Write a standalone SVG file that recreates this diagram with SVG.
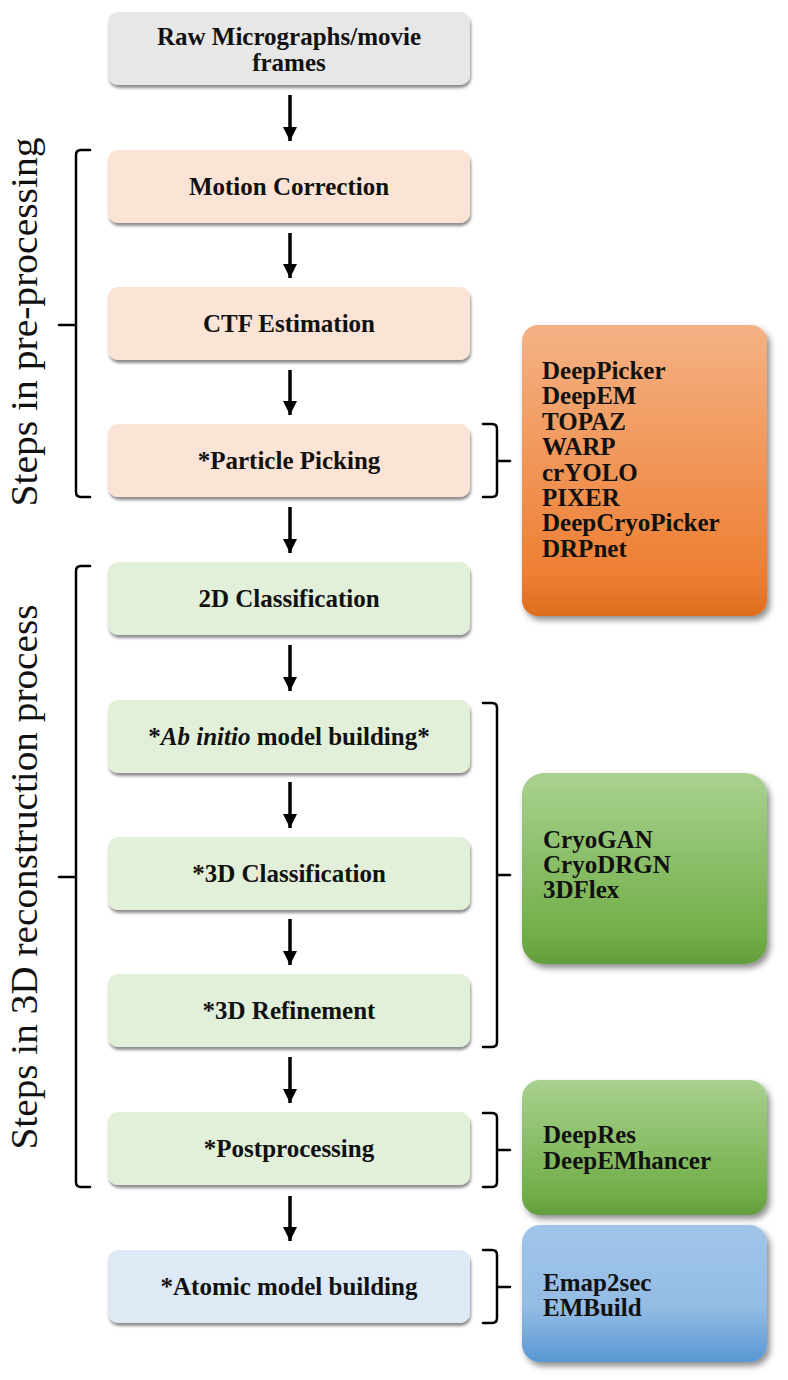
<svg xmlns="http://www.w3.org/2000/svg" width="788" height="1380" viewBox="0 0 788 1380">
<defs>
<filter id="sh" x="-5%" y="-15%" width="112%" height="140%"><feDropShadow dx="1" dy="3" stdDeviation="1.6" flood-color="#000" flood-opacity="0.45"/></filter>
<filter id="sh2" x="-8%" y="-8%" width="120%" height="120%"><feDropShadow dx="3" dy="4" stdDeviation="3" flood-color="#000" flood-opacity="0.45"/></filter>
<linearGradient id="gOr" x1="0" y1="0" x2="0" y2="1"><stop offset="0" stop-color="#f4b285"/><stop offset="0.85" stop-color="#ee7f34"/><stop offset="1" stop-color="#de6d1e"/></linearGradient>
<linearGradient id="gGr" x1="0" y1="0" x2="0" y2="1"><stop offset="0" stop-color="#a9d18f"/><stop offset="0.85" stop-color="#71ae48"/><stop offset="1" stop-color="#629d3c"/></linearGradient>
<linearGradient id="gBl" x1="0" y1="0" x2="0" y2="1"><stop offset="0" stop-color="#a0c5e9"/><stop offset="0.6" stop-color="#94bce4"/><stop offset="1" stop-color="#5897d3"/></linearGradient>
<marker id="ah" markerUnits="userSpaceOnUse" markerWidth="16" markerHeight="16" refX="14" refY="7" orient="auto"><path d="M0,0 L14,7 L0,14 z" fill="#000"/></marker>
</defs>
<style>
.box{stroke:none;filter:url(#sh)}
.gray{fill:#e8e7e7}
.pre{fill:#fbe4d5}
.grn{fill:#e2efd9}
.blu{fill:#ddeaf6}
.lbl{font-family:"Liberation Serif","Times New Roman",serif;font-weight:bold;font-size:25px;fill:#111;text-anchor:middle}
.tool{font-family:"Liberation Serif","Times New Roman",serif;font-weight:bold;font-size:25px;fill:#111}
.side{font-family:"Liberation Serif","Times New Roman",serif;font-size:37px;fill:#111;text-anchor:middle}
.tbox{filter:url(#sh2)}
.br{fill:none;stroke:#000;stroke-width:2.5;stroke-linecap:round}
.arr{stroke:#000;stroke-width:3.5}
</style>
<rect width="788" height="1380" fill="#fff"/>

<g id="side-labels">
<text class="side" transform="translate(37,322) rotate(-90)" textLength="369" lengthAdjust="spacingAndGlyphs">Steps in pre-processing</text>
<text class="side" transform="translate(37,877) rotate(-90)" textLength="545" lengthAdjust="spacingAndGlyphs">Steps in 3D reconstruction process</text>
</g>

<g id="brackets">
<path class="br" d="M90,150 H81 Q76,150 76,155 V492 Q76,497 81,497 H90 M76,325 H59"/>
<path class="br" d="M90,566 H81 Q76,566 76,571 V1182 Q76,1187 81,1187 H90 M76,877 H59"/>
<path class="br" d="M483,424 H492 Q497,424 497,429 V492 Q497,497 492,497 H483 M497,461 H510"/>
<path class="br" d="M483,703 H492 Q497,703 497,708 V1042 Q497,1047 492,1047 H483 M497,875 H510"/>
<path class="br" d="M483,1113 H492 Q497,1113 497,1118 V1182 Q497,1187 492,1187 H483 M497,1150 H510"/>
<path class="br" d="M483,1250 H492 Q497,1250 497,1255 V1318 Q497,1323 492,1323 H483 M497,1287 H510"/>
</g>

<g id="connectors">
<line class="arr" x1="290" y1="95" x2="290" y2="141" marker-end="url(#ah)"/>
<line class="arr" x1="290" y1="233" x2="290" y2="278" marker-end="url(#ah)"/>
<line class="arr" x1="290" y1="370" x2="290" y2="415" marker-end="url(#ah)"/>
<line class="arr" x1="290" y1="507" x2="290" y2="553" marker-end="url(#ah)"/>
<line class="arr" x1="290" y1="645" x2="290" y2="691" marker-end="url(#ah)"/>
<line class="arr" x1="290" y1="782" x2="290" y2="828" marker-end="url(#ah)"/>
<line class="arr" x1="290" y1="919" x2="290" y2="965" marker-end="url(#ah)"/>
<line class="arr" x1="290" y1="1057" x2="290" y2="1103" marker-end="url(#ah)"/>
<line class="arr" x1="290" y1="1196" x2="290" y2="1241" marker-end="url(#ah)"/>
</g>

<g id="raw"><rect class="box gray" x="108" y="12" width="362" height="73" rx="10"/>
<text class="lbl" x="289" y="45">Raw Micrographs/movie</text><text class="lbl" x="289" y="71">frames</text></g>
<g id="motion"><rect class="box pre" x="108" y="150" width="362" height="73" rx="10"/>
<text class="lbl" x="289" y="195">Motion Correction</text></g>
<g id="ctf"><rect class="box pre" x="108" y="287" width="362" height="73" rx="10"/>
<text class="lbl" x="289" y="332">CTF Estimation</text></g>
<g id="picking"><rect class="box pre" x="108" y="424" width="362" height="73" rx="10"/>
<text class="lbl" x="289" y="469">*Particle Picking</text></g>
<g id="class2d"><rect class="box grn" x="108" y="562" width="362" height="73" rx="10"/>
<text class="lbl" x="289" y="607">2D Classification</text></g>
<g id="abinitio"><rect class="box grn" x="108" y="700" width="362" height="73" rx="10"/>
<text class="lbl" x="289" y="745">*<tspan font-style="italic">Ab initio</tspan> model building*</text></g>
<g id="class3d"><rect class="box grn" x="108" y="837" width="362" height="73" rx="10"/>
<text class="lbl" x="289" y="882">*3D Classification</text></g>
<g id="refine"><rect class="box grn" x="108" y="974" width="362" height="73" rx="10"/>
<text class="lbl" x="289" y="1019">*3D Refinement</text></g>
<g id="post"><rect class="box grn" x="108" y="1112" width="362" height="73" rx="10"/>
<text class="lbl" x="289" y="1157">*Postprocessing</text></g>
<g id="atomic"><rect class="box blu" x="108" y="1250" width="362" height="73" rx="10"/>
<text class="lbl" x="289" y="1295">*Atomic model building</text></g>

<g id="tools-picking"><rect class="tbox" x="522" y="325" width="245" height="291" rx="16" fill="url(#gOr)"/>
<text class="tool" x="542" y="379">DeepPicker</text>
<text class="tool" x="542" y="404.4">DeepEM</text>
<text class="tool" x="542" y="429.8">TOPAZ</text>
<text class="tool" x="542" y="455.2">WARP</text>
<text class="tool" x="542" y="480.6">crYOLO</text>
<text class="tool" x="542" y="506">PIXER</text>
<text class="tool" x="542" y="531.4">DeepCryoPicker</text>
<text class="tool" x="542" y="556.8">DRPnet</text></g>
<g id="tools-3d"><rect class="tbox" x="522" y="773" width="245" height="191" rx="22" fill="url(#gGr)"/>
<text class="tool" x="543" y="848">CryoGAN</text>
<text class="tool" x="543" y="873">CryoDRGN</text>
<text class="tool" x="543" y="898">3DFlex</text></g>
<g id="tools-post"><rect class="tbox" x="522" y="1080" width="245" height="135" rx="18" fill="url(#gGr)"/>
<text class="tool" x="543" y="1143">DeepRes</text>
<text class="tool" x="543" y="1169">DeepEMhancer</text></g>
<g id="tools-atomic"><rect class="tbox" x="522" y="1225" width="245" height="137" rx="18" fill="url(#gBl)"/>
<text class="tool" x="543" y="1291">Emap2sec</text>
<text class="tool" x="543" y="1316">EMBuild</text></g>
</svg>
